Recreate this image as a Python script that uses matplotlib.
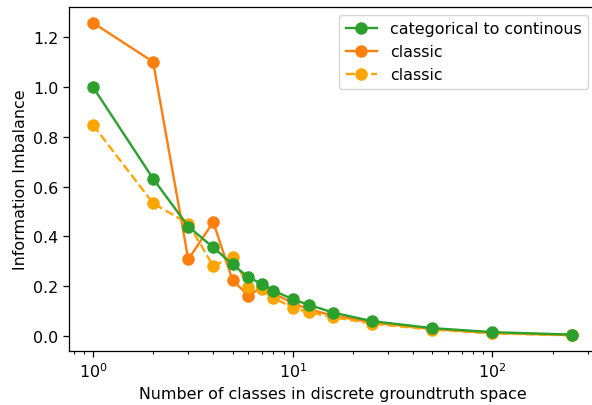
import matplotlib
matplotlib.use('Agg')
import matplotlib.pyplot as plt

# number of classes
n_classes = [1, 2, 3, 4, 5, 6, 7, 8, 10, 12, 16, 25, 50, 100, 250]

# information imbalance values
cat_to_cont = [1.0, 0.632, 0.44, 0.356, 0.288, 0.236, 0.21, 0.183, 0.148, 0.126,
               0.094, 0.06, 0.032, 0.016, 0.006]
classic_a = [1.258, 1.101, 0.308, 0.458, 0.224, 0.163, 0.196, 0.172, 0.132, 0.108,
             0.082, 0.055, 0.029, 0.013, 0.004]
classic_b = [0.848, 0.533, 0.452, 0.281, 0.319, 0.199, 0.188, 0.154, 0.114, 0.096,
             0.076, 0.05, 0.026, 0.011, 0.003]

s = 1.14
plt.rcParams['font.size'] = 10 * s
plt.rcParams['lines.linewidth'] = 1.5 * s
plt.rcParams['axes.linewidth'] = 0.8 * s
for a in ('xtick', 'ytick'):
    plt.rcParams[a + '.major.size'] = 3.5 * s
    plt.rcParams[a + '.minor.size'] = 2 * s
    plt.rcParams[a + '.major.width'] = 0.8 * s
    plt.rcParams[a + '.minor.width'] = 0.6 * s

fig = plt.figure(figsize=(5.92, 4.06), dpi=100)
# right edge of the axes falls just outside the image, like the reference
ax = fig.add_axes([0.1166, 0.133, 0.890, 0.847])

l1, = ax.plot(n_classes, cat_to_cont, 'o-', color='tab:green', ms=8,
              label='categorical to continous', zorder=4)
l2, = ax.plot(n_classes, classic_a, 'o-', color='tab:orange', ms=8,
              label='classic', zorder=2)
l3, = ax.plot(n_classes, classic_b, 'o--', color='orange', ms=8,
              label='classic', zorder=3)

ax.set_xscale('log')
ax.set_xlabel('Number of classes in discrete groundtruth space')
ax.set_ylabel('Information Imbalance')
ax.legend(handles=[l1, l2, l3], loc='upper right')

fig.savefig('out.png', dpi=100)
